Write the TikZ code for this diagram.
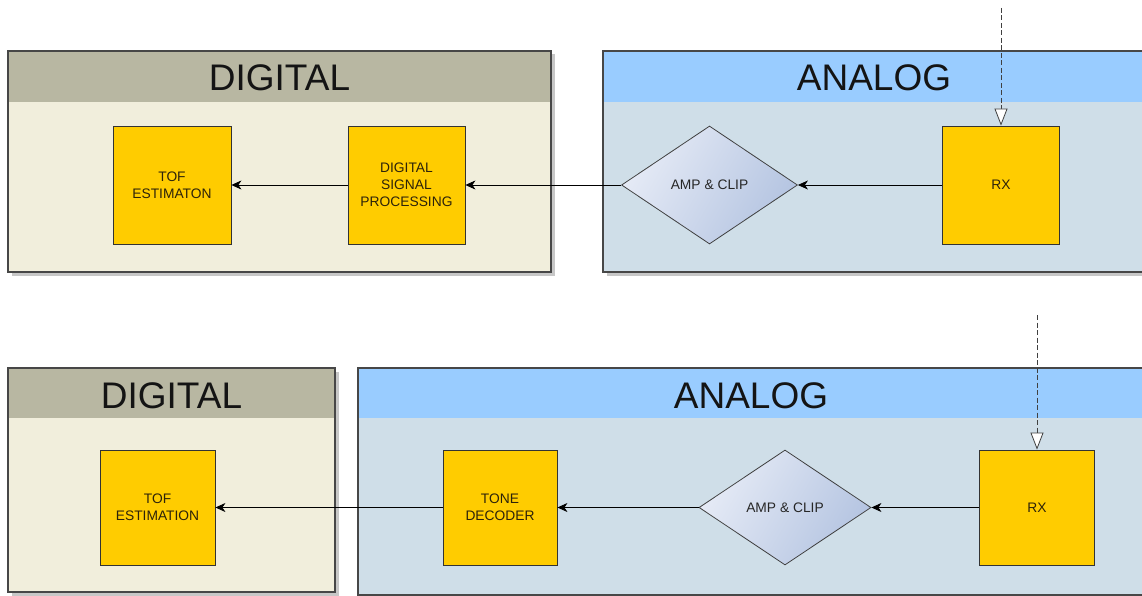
\documentclass[tikz,border=0pt]{standalone}
\usepackage{fontspec}
\setmainfont{Liberation Sans}
\usetikzlibrary{arrows.meta,shapes.geometric,shadows}
\definecolor{dighead}{RGB}{184,183,162}
\definecolor{digbody}{RGB}{241,238,220}
\definecolor{anhead}{RGB}{153,204,255}
\definecolor{anbody}{RGB}{207,222,232}
\definecolor{blockyellow}{RGB}{255,204,0}
\definecolor{diamL}{RGB}{230,235,246}
\definecolor{diamR}{RGB}{180,196,225}
\definecolor{blocktext}{RGB}{45,35,10}
\begin{document}
\begin{tikzpicture}[x=1pt,y=-1pt,
  container/.style={draw=black!72, line width=1.1pt,
    drop shadow={shadow xshift=3.5pt,shadow yshift=-3.5pt,opacity=0.22,fill=black}},
  frame/.style={draw=black!72, line width=1.1pt},
  title/.style={font=\fontsize{37}{40}\selectfont, text=black!92, inner sep=0pt},
  block/.style={draw=black!80, line width=0.8pt, fill=blockyellow, inner sep=0pt,
    align=center, text=blocktext, font=\fontsize{13.8}{16.8}\selectfont},
  decision/.style={diamond, draw=black!75, line width=0.8pt, inner sep=0pt,
    left color=diamL, right color=diamR, shading angle=60,
    minimum width=176pt, minimum height=118pt, text=black!85,
    font=\fontsize{13.8}{16}\selectfont},
  flow/.style={draw=black, line width=0.8pt, -{Stealth[length=10pt,width=9pt,inset=3pt]}},
  signal/.style={draw=black!75, line width=0.8pt, dashed, dash pattern=on 5pt off 2.5pt,
    -{Triangle[length=17pt,width=13pt,fill=white,line width=0.8pt]}},
]
\useasboundingbox (0,0) rectangle (1142,596);
\clip (0,0) rectangle (1142,596);
\fill[white] (0,0) rectangle (1142,596);

% ---------- top row ----------
\path[container, fill=digbody] (8,51) rectangle (551,272);
\fill[dighead] (8,51) rectangle (551,102);
\draw[frame] (8,51) rectangle (551,272);
\node[title] (tdt) at (279.5,78) {DIGITAL};

\path[container, fill=anbody] (603,51) rectangle (1160,272);
\fill[anhead] (603,51) rectangle (1160,102);
\draw[frame] (603,51) rectangle (1160,272);
\node[title] (tat) at (874,78) {ANALOG};

\node[block, minimum width=118pt, minimum height=118pt] (ttof) at (172,185) {TOF\\ESTIMATON};
\node[block, minimum width=117pt, minimum height=118pt] (tdsp) at (406.5,185) {DIGITAL\\SIGNAL\\PROCESSING};
\node[decision] (tamp) at (709.5,185) {AMP \& CLIP};
\node[block, minimum width=117pt, minimum height=118pt] (trx) at (1001,185) {RX};
\coordinate (tin) at (1001,8);

\draw[flow] (trx.west) -- (tamp.east);
\draw[flow] (tamp.west) -- (tdsp.east);
\draw[flow] (tdsp.west) -- (ttof.east);
\draw[signal] (tin) -- (trx.north);

% ---------- bottom row ----------
\path[container, fill=digbody] (8,368) rectangle (335,592);
\fill[dighead] (8,368) rectangle (335,418);
\draw[frame] (8,368) rectangle (335,592);
\node[title] (bdt) at (171.5,396) {DIGITAL};

\path[container, fill=anbody] (358,368) rectangle (1160,595);
\fill[anhead] (358,368) rectangle (1160,418);
\draw[frame] (358,368) rectangle (1160,595);
\node[title] (bat) at (751,396) {ANALOG};

\node[block, minimum width=115pt, minimum height=115pt] (btof) at (157.5,507.5) {TOF\\ESTIMATION};
\node[block, minimum width=114pt, minimum height=115pt] (btone) at (500,507.5) {TONE\\DECODER};
\node[decision, minimum width=172pt, minimum height=115pt] (bamp) at (785,507.5) {AMP \& CLIP};
\node[block, minimum width=115pt, minimum height=115pt] (brx) at (1037,507.5) {RX};
\coordinate (bin) at (1037,315);

\draw[flow] (brx.west) -- (bamp.east);
\draw[flow] (bamp.west) -- (btone.east);
\draw[flow] (btone.west) -- (btof.east);
\draw[signal] (bin) -- (brx.north);
\end{tikzpicture}
\end{document}
